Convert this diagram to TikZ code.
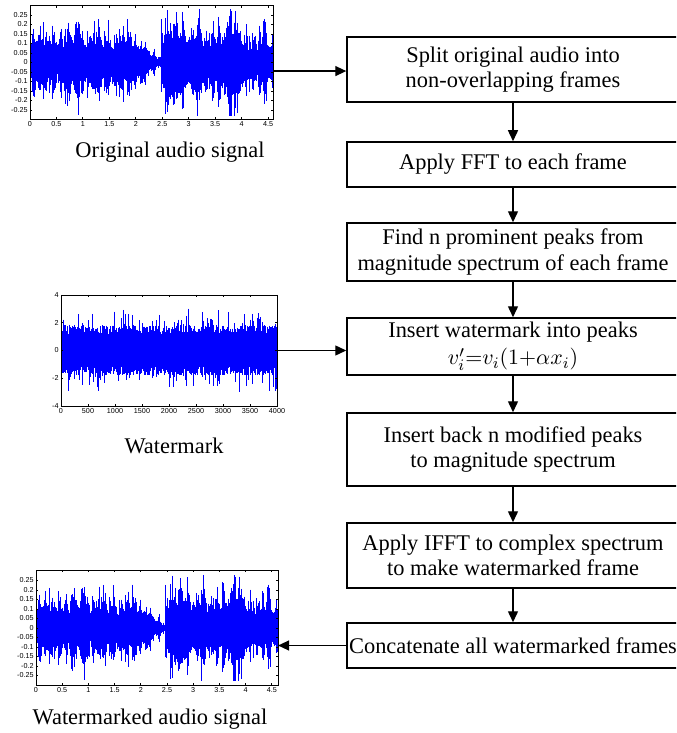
\documentclass[tikz,border=0pt]{standalone}
\usepackage{fontspec}
\setmainfont{Liberation Serif}
\newfontfamily\achsenfont{Liberation Sans}
\usetikzlibrary{arrows.meta}

\tikzset{
  schritt/.style={draw, line width=0.75pt, minimum width=166pt, align=center,
    inner sep=1pt, font=\fontsize{11.2}{12.6}\selectfont},
  pfeil/.style={line width=0.7pt, -{Triangle[length=5.5pt,width=5pt]}},
  titel/.style={font=\fontsize{11.2}{13}\selectfont, inner sep=0pt},
  achse/.style={line width=0.45pt},
  welle/.style={blue, line width=0.5pt},
  skala/.style={font=\achsenfont\fontsize{3.6}{4}\selectfont, inner sep=1pt},
  declare function={huelle(\x)=min(1,\x*25)*((\x<1.8)?(0.12+0.015*sin(\x*500)):((\x<2.47)?max(0.015,0.12-(\x-1.8)*0.16):((\x<3.95)?(0.15+0.025*sin((\x-2.5)*300)):0.095)));}
}

\begin{document}
\begin{tikzpicture}[x=0.5pt, y=-0.5pt]
\useasboundingbox (0,0) rectangle (676,733);
\clip (0,0) rectangle (676,733);

% Ablauf rechts
\node[schritt, minimum height=32.5pt] (split) at (513,69.5) {Split original audio into\\non-overlapping frames};
\node[schritt, minimum height=22.5pt] (fft) at (513,164.5) {Apply FFT to each frame};
\node[schritt, minimum height=29pt] (peaks) at (513,252) {Find n prominent peaks from\\magnitude spectrum of each frame};
\node[schritt, minimum height=28.5pt] (insert) at (513,346.5) {Insert watermark into peaks\\[1pt]$v_i^{\prime}{=}v_i(1{+}\alpha x_i)$};
\node[schritt, minimum height=36.5pt] (back) at (513,449.5) {Insert back n modified peaks\\to magnitude spectrum};
\node[schritt, minimum height=32.5pt] (ifft) at (513,555.5) {Apply IFFT to complex spectrum\\to make watermarked frame};
\node[schritt, minimum height=22.5pt] (concat) at (513,645.5) {Concatenate all watermarked frames};

% Pfeile zwischen den Schritten
\foreach \a/\b in {split/fft, fft/peaks, peaks/insert, insert/back, back/ifft, ifft/concat}
  \draw[pfeil] (\a) -- (\b);

% Originalsignal oben links
\pgfmathsetseed{11}
\gdef\walk{1}
\begin{scope}[shift={(30,62.5)}, x=26.45pt, y=95pt]
  \foreach \i in {0,...,460} {
    \pgfmathsetmacro\xx{\i/100}
    \pgfmathsetmacro\h{1.3*huelle(\xx)}
    \pgfmathsetmacro\w{0.6*\walk+0.4*(0.45+1.6*rnd^3)}
    \xdef\walk{\w}
    \pgfmathsetmacro\ya{min(0.28,\h*\w*(0.75+0.5*rnd))}
    \pgfmathsetmacro\yb{min(0.28,\h*\w*(0.75+0.5*rnd))}
    \draw[welle] (\xx,\ya) -- (\xx,-\yb);
  }
  \draw[achse] (0,-0.3) rectangle (4.6,0.3);
  \foreach \t in {0,0.5,1,1.5,2,2.5,3,3.5,4,4.5} {
    \draw[achse] (\t,-0.3) -- ++(0pt,1.2pt) (\t,0.3) -- ++(0pt,-1.2pt);
    \node[skala, below] at (\t,-0.3) {\t};
  }
  \foreach \t in {-0.25,-0.2,-0.15,-0.1,-0.05,0,0.05,0.1,0.15,0.2,0.25} {
    \draw[achse] (0,\t) -- ++(1.2pt,0pt) (4.6,\t) -- ++(-1.2pt,0pt);
    \node[skala, left] at (0,\t) {\t};
  }
  \coordinate (orig) at (4.6,-0.045);
\end{scope}
\node[titel] (origtext) at (170,152) {Original audio signal};

% Wasserzeichen in der Mitte
\pgfmathsetseed{5}
\begin{scope}[shift={(61,350.5)}, x=27pt, y=6.94pt]
  \foreach \i in {0,...,400} {
    \pgfmathsetmacro\xx{\i/100}
    \pgfmathsetmacro\ya{1.1+0.7*rnd+1.5*rnd^12}
    \pgfmathsetmacro\yb{1.1+0.7*rnd+1.5*rnd^12}
    \draw[welle] (\xx,\ya) -- (\xx,-\yb);
  }
  \draw[achse] (0,-4) rectangle (4,4);
  \foreach \t/\l in {0/0,0.5/500,1/1000,1.5/1500,2/2000,2.5/2500,3/3000,3.5/3500,4/4000} {
    \draw[achse] (\t,-4) -- ++(0pt,1.2pt) (\t,4) -- ++(0pt,-1.2pt);
    \node[skala, below] at (\t,-4) {\l};
  }
  \foreach \t in {-4,-2,0,2,4} {
    \draw[achse] (0,\t) -- ++(1.2pt,0pt) (4,\t) -- ++(-1.2pt,0pt);
    \node[skala, left] at (0,\t) {\t};
  }
  \coordinate (wm) at (4.02,0);
\end{scope}
\node[titel] (wmtext) at (174,446) {Watermark};

% Markiertes Signal unten links
\pgfmathsetseed{11}
\gdef\walk{1}
\begin{scope}[shift={(36,628)}, x=26.2pt, y=95pt]
  \foreach \i in {0,...,462} {
    \pgfmathsetmacro\xx{\i/100}
    \pgfmathsetmacro\h{1.3*huelle(\xx)}
    \pgfmathsetmacro\w{0.6*\walk+0.4*(0.45+1.6*rnd^3)}
    \xdef\walk{\w}
    \pgfmathsetmacro\ya{min(0.28,\h*\w*(0.75+0.5*rnd))}
    \pgfmathsetmacro\yb{min(0.28,\h*\w*(0.75+0.5*rnd))}
    \draw[welle] (\xx,\ya) -- (\xx,-\yb);
  }
  \draw[achse] (0,-0.3) rectangle (4.62,0.305);
  \foreach \t in {0,0.5,1,1.5,2,2.5,3,3.5,4,4.5} {
    \draw[achse] (\t,-0.3) -- ++(0pt,1.2pt) (\t,0.305) -- ++(0pt,-1.2pt);
    \node[skala, below] at (\t,-0.3) {\t};
  }
  \foreach \t in {-0.25,-0.2,-0.15,-0.1,-0.05,0,0.05,0.1,0.15,0.2,0.25} {
    \draw[achse] (0,\t) -- ++(1.2pt,0pt) (4.62,\t) -- ++(-1.2pt,0pt);
    \node[skala, left] at (0,\t) {\t};
  }
  \coordinate (wmaudio) at (4.62,0);
\end{scope}
\node[titel] (wmaudiotext) at (150,719) {Watermarked audio signal};

% Pfeile von und zu den Signalen
\draw[pfeil] (orig) -- (orig -| split.west);
\draw[pfeil] (wm) -- (wm -| insert.west);
\draw[pfeil] (concat.west) -- (concat.west -| wmaudio);
\end{tikzpicture}
\end{document}
